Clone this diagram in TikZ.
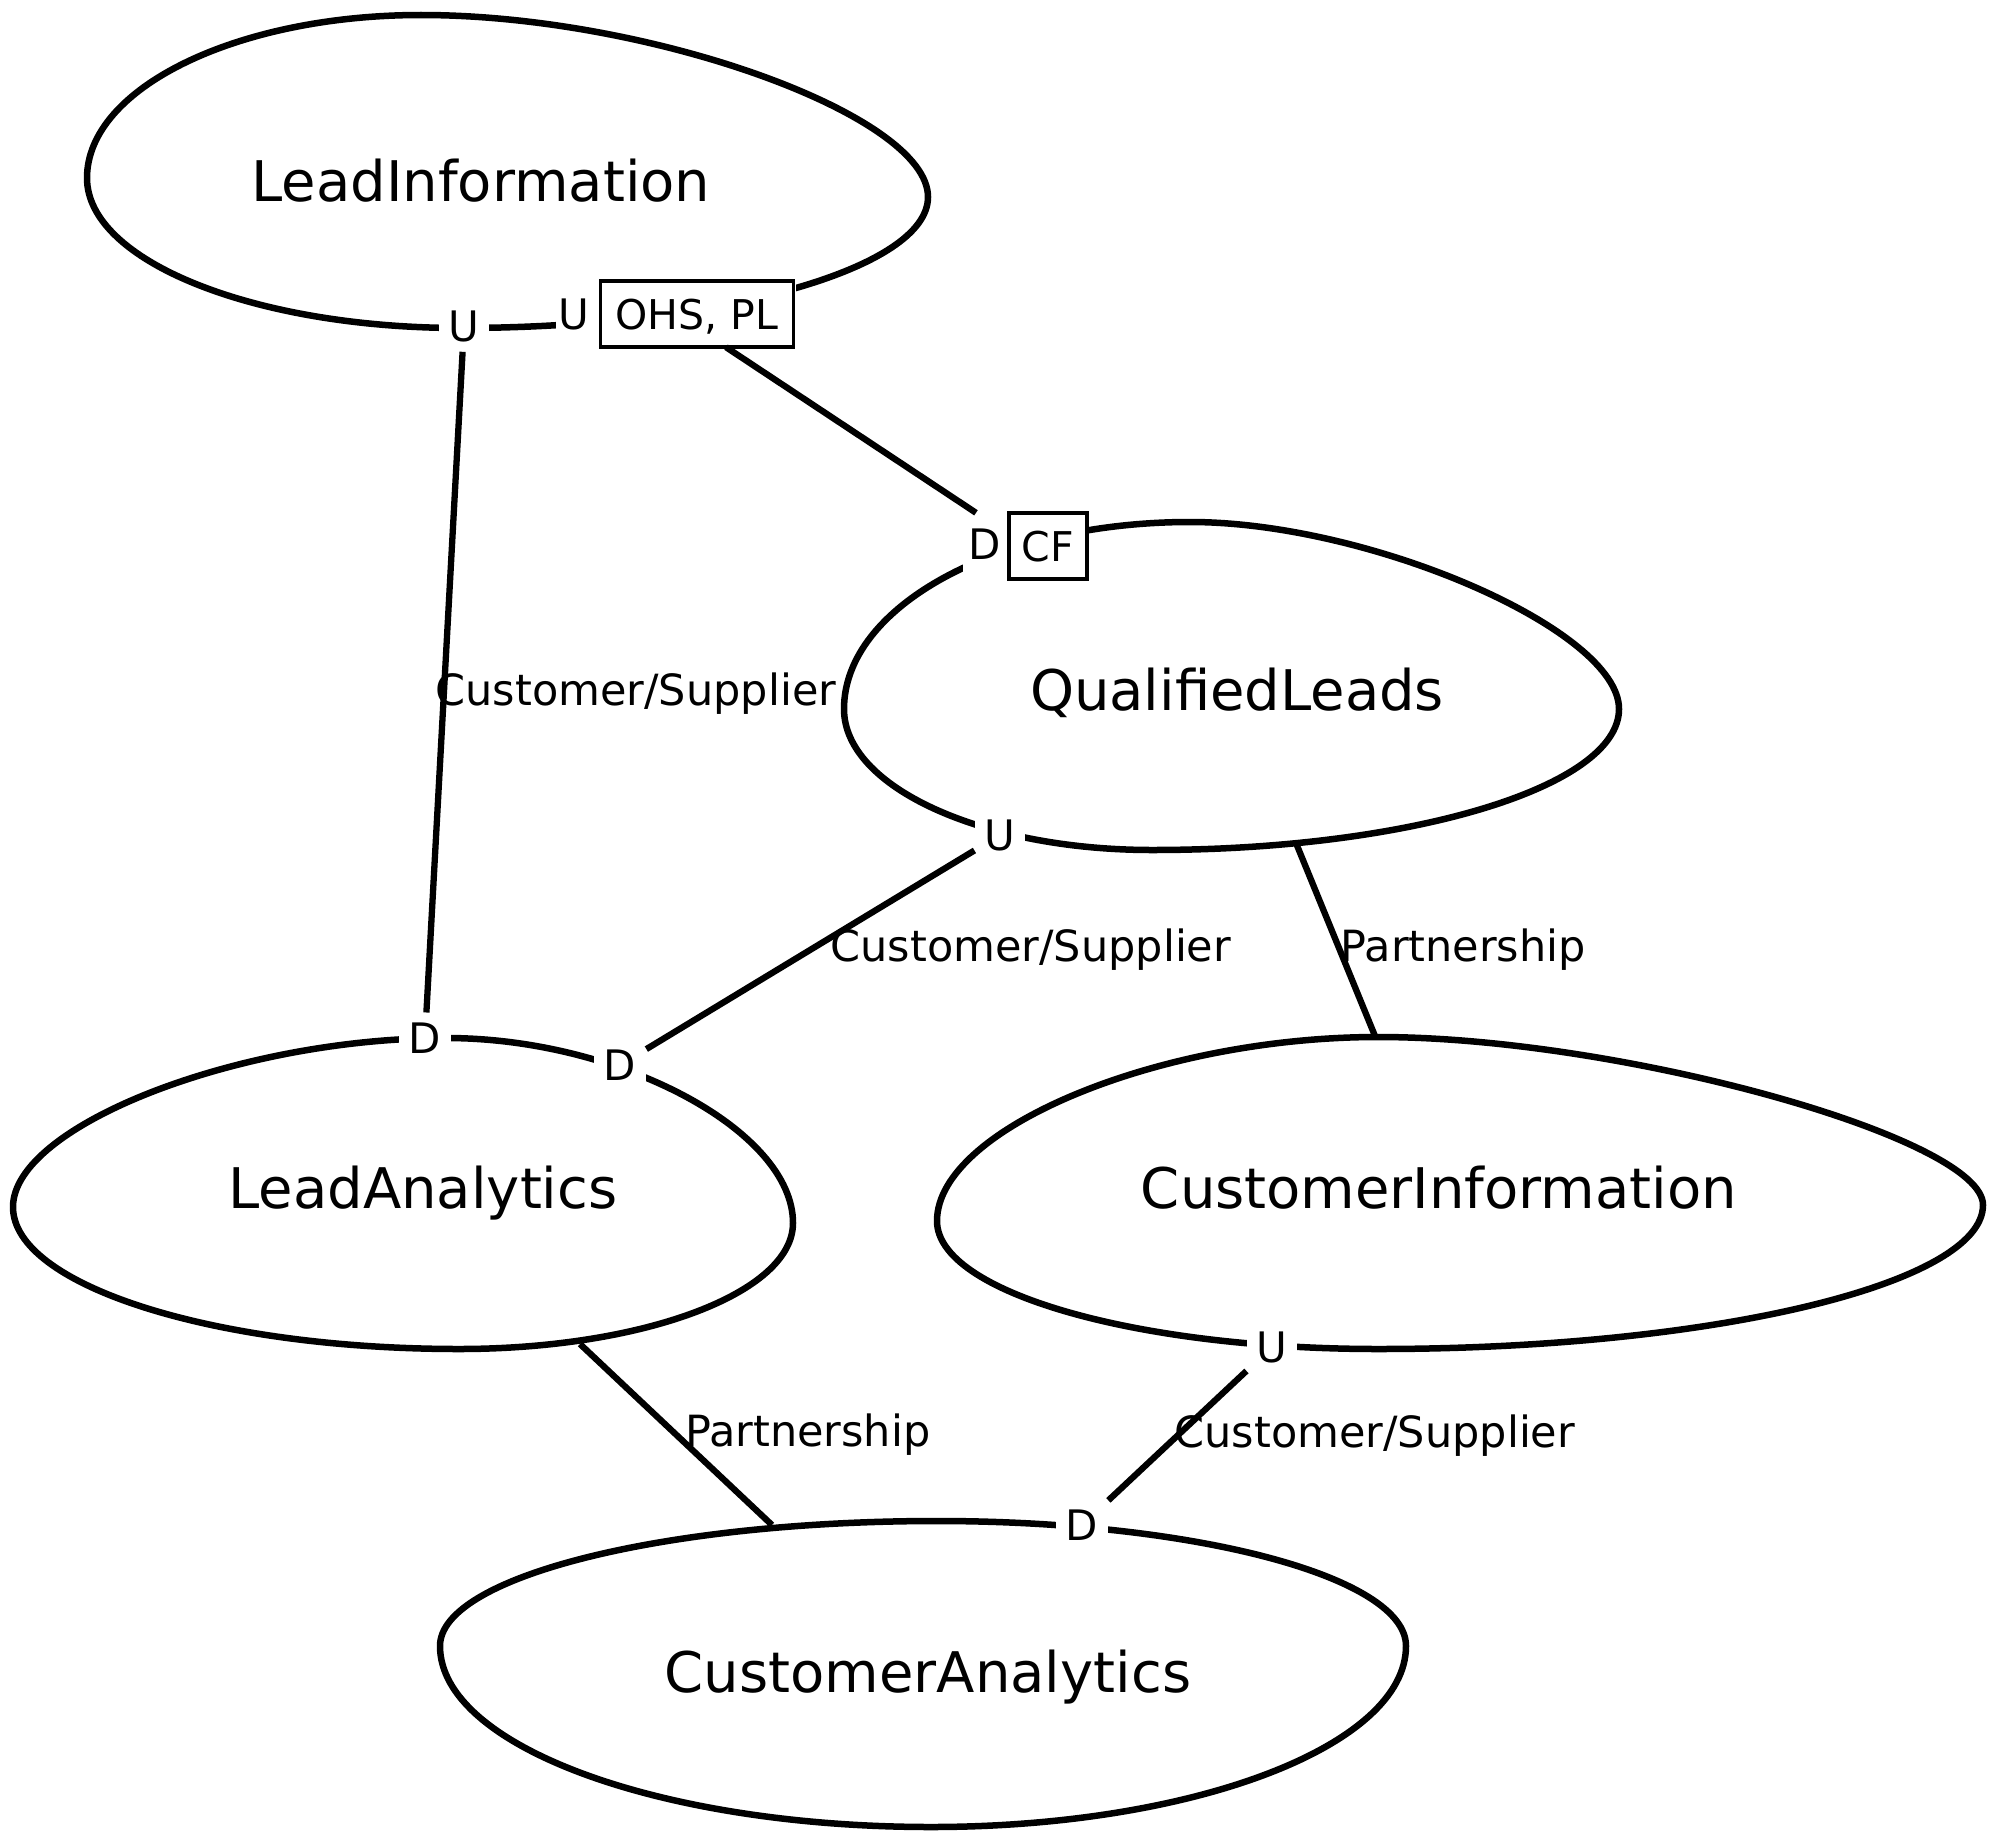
\documentclass[tikz,border=0pt]{standalone}
\usepackage{fontspec}
\setmainfont{DejaVu Sans}
\begin{document}
\begin{tikzpicture}[x=1pt,y=-1pt,
  blob/.style={line width=6.5pt, line join=round},
  conn/.style={line width=6.3pt},
  ud/.style={font=\fontsize{42}{48}\selectfont, fill=white, inner sep=10pt},
  elab/.style={font=\fontsize{43}{48}\selectfont, anchor=west, inner sep=2pt},
  ctx/.style={font=\fontsize{56}{62}\selectfont, anchor=base, inner sep=0pt},
  mask/.style={fill=white, inner sep=0pt, minimum height=66pt},
  tagbox/.style={draw, line width=3.5pt, font=\fontsize{41}{48}\selectfont, fill=white, minimum height=66pt, text depth=0pt, inner sep=0pt}]
\useasboundingbox (0,0) rectangle (2000,1844);

% context blobs
\draw[blob] (87,178) .. controls (87,88) and (237,15) .. (421,15)
  .. controls (649,15) and (928,115) .. (928,197)
  .. controls (928,269) and (718,328) .. (460,328)
  .. controls (254,328) and (87,261) .. (87,178) -- cycle;
\draw[blob] (844,709) .. controls (844,606) and (999,522) .. (1190,522)
  .. controls (1370,522) and (1619,630) .. (1619,709)
  .. controls (1619,787) and (1410,850) .. (1152,850)
  .. controls (982,850) and (844,787) .. (844,709) -- cycle;
\draw[blob] (13,1207) .. controls (13,1126) and (238,1038) .. (446,1038)
  .. controls (620,1038) and (793,1131) .. (793,1223)
  .. controls (793,1293) and (643,1349) .. (459,1349)
  .. controls (213,1349) and (13,1285) .. (13,1207) -- cycle;
\draw[blob] (937,1221) .. controls (937,1129) and (1158,1037) .. (1378,1037)
  .. controls (1620,1037) and (1983,1138) .. (1983,1205)
  .. controls (1983,1284) and (1712,1349) .. (1378,1349)
  .. controls (1135,1349) and (937,1292) .. (937,1221) -- cycle;
\draw[blob] (440,1646) .. controls (440,1577) and (663,1521) .. (937,1521)
  .. controls (1196,1521) and (1406,1577) .. (1406,1646)
  .. controls (1406,1746) and (1193,1827) .. (931,1827)
  .. controls (660,1827) and (440,1746) .. (440,1646) -- cycle;

% context names
\node[ctx] (li) at (481,201) {LeadInformation};
\node[ctx] (ql) at (1237,710) {QualifiedLeads};
\node[ctx] (la) at (423,1208) {LeadAnalytics};
\node[ctx] (ci) at (1439,1208) {CustomerInformation};
\node[ctx] (ca) at (928,1692) {CustomerAnalytics};

% relationship ends
\node[ud] (liU) at (464,326) {U};
\node[mask, minimum width=240pt] (g1) at (676,314) {};
\node[ud, inner sep=2pt] (liU2) at (574,314) {U};
\node[tagbox, minimum width=193pt] (ohs) at (697,314) {OHS, PL};
\node[mask, minimum width=126pt] (g2) at (1026,546) {};
\node[ud, inner sep=2pt] (qlD) at (985,544) {D};
\node[tagbox, minimum width=78pt] (cf) at (1048,546) {CF};
\node[ud] (qlU) at (1000,835) {U};
\node[ud] (laD1) at (425,1038) {D};
\node[ud] (laD2) at (620,1065) {D};
\node[ud] (ciU) at (1272,1347) {U};
\node[ud] (caD) at (1082,1525) {D};

\coordinate (qlP) at (1296,843);
\coordinate (ciP) at (1375,1036);
\coordinate (laP) at (580,1344);
\coordinate (caP) at (772,1525);

% connectors
\draw[conn] (g1) -- (g2);
\draw[conn] (liU) -- node[elab, xshift=-14pt, yshift=-11pt] {Customer/Supplier} (laD1);
\draw[conn] (qlU) -- node[elab, xshift=15pt] {Customer/Supplier} (laD2);
\draw[conn] (qlP) -- node[elab, yshift=-10pt] {Partnership} (ciP);
\draw[conn] (laP) -- node[elab, xshift=4pt] {Partnership} (caP);
\draw[conn] (ciU) -- node[elab, xshift=-8pt] {Customer/Supplier} (caD);
\end{tikzpicture}
\end{document}
